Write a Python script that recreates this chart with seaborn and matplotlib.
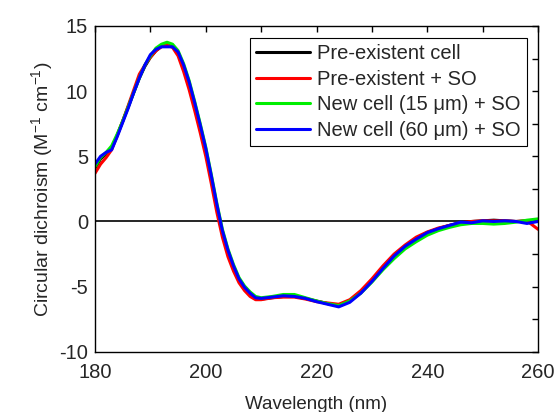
import pandas as pd
import seaborn as sns
import matplotlib.pyplot as plt
from matplotlib.ticker import MultipleLocator

# wavelength (nm)
wavelength = list(range(180, 211)) + list(range(212, 261, 2))

# CD values (M^-1 cm^-1)
pre_cell = [4.1, 4.8, 5.2, 5.6, 6.6, 7.7, 8.8, 9.9, 11.0, 11.9,
            12.6, 13.1, 13.45, 13.6, 13.45, 12.9, 11.8, 10.5, 8.9, 7.2,
            5.4, 3.3, 1.1, -0.9, -2.4, -3.6, -4.5, -5.15, -5.6, -5.9,
            -5.95, -5.85, -5.75, -5.75, -5.9, -6.1, -6.3, -6.45, -6.1, -5.4,
            -4.5, -3.5, -2.6, -1.9, -1.3, -0.85, -0.55, -0.3, -0.1, 0.0,
            0.05, 0.1, 0.05, 0.0, 0.05, 0.05]
pre_so = [3.7, 4.4, 4.9, 5.5, 6.6, 7.7, 8.9, 10.1, 11.3, 12.0,
          12.6, 13.1, 13.4, 13.55, 13.35, 12.7, 11.5, 10.1, 8.5, 6.8,
          5.0, 2.9, 0.7, -1.2, -2.7, -3.8, -4.7, -5.3, -5.75, -6.0,
          -6.0, -5.85, -5.8, -5.8, -5.95, -6.15, -6.25, -6.35, -6.0, -5.3,
          -4.4, -3.4, -2.5, -1.8, -1.2, -0.8, -0.5, -0.3, -0.1, 0.0,
          0.05, 0.05, 0.05, 0.0, 0.05, -0.6]
new15_so = [4.2, 4.9, 5.3, 5.8, 6.7, 7.7, 8.8, 9.9, 11.0, 12.0,
            12.7, 13.3, 13.6, 13.75, 13.6, 13.1, 12.1, 10.8, 9.2, 7.5,
            5.7, 3.6, 1.4, -0.6, -2.1, -3.3, -4.3, -4.95, -5.4, -5.75,
            -5.85, -5.75, -5.6, -5.6, -5.85, -6.1, -6.3, -6.45, -6.1, -5.5,
            -4.65, -3.7, -2.85, -2.1, -1.55, -1.05, -0.7, -0.45, -0.25, -0.15,
            -0.15, -0.2, -0.15, -0.05, 0.1, 0.2]
new60_so = [4.4, 5.0, 5.3, 5.5, 6.5, 7.6, 8.7, 9.9, 11.0, 12.0,
            12.8, 13.2, 13.4, 13.4, 13.4, 13.0, 12.0, 10.7, 9.1, 7.4,
            5.6, 3.5, 1.3, -0.7, -2.2, -3.4, -4.4, -5.05, -5.5, -5.85,
            -5.9, -5.8, -5.7, -5.75, -5.9, -6.15, -6.35, -6.55, -6.2, -5.5,
            -4.6, -3.6, -2.65, -1.9, -1.35, -0.85, -0.55, -0.3, -0.05, -0.1,
            0.05, 0.0, 0.05, 0.0, -0.15, 0.0]

labels = ['Pre-existent cell', 'Pre-existent + SO',
          'New cell (15 μm) + SO', 'New cell (60 μm) + SO']
colors = ['black', '#ff0000', '#00ee00', '#0000ff']

frames = []
for lab, vals in zip(labels, [pre_cell, pre_so, new15_so, new60_so]):
    frames.append(pd.DataFrame({'wl': wavelength, 'cd': vals, 'sample': lab}))
df = pd.concat(frames, ignore_index=True)

sns.set_style('white')
plt.rcParams['font.family'] = ['Liberation Sans', 'DejaVu Sans']
plt.rcParams['mathtext.default'] = 'regular'
plt.rcParams['axes.unicode_minus'] = False

fig = plt.figure(figsize=(5.57, 4.12), dpi=100)
ax = fig.add_axes([0.1706, 0.146, 0.7954, 0.791])

ax.axhline(0, color='black', lw=1.2, zorder=1)
sns.lineplot(data=df, x='wl', y='cd', hue='sample', hue_order=labels,
             palette=colors, linewidth=2.2, ax=ax, sort=False)

ax.set_xlim(180, 260)
ax.set_ylim(-10, 15)
ax.xaxis.set_major_locator(MultipleLocator(20))
ax.xaxis.set_minor_locator(MultipleLocator(10))
ax.yaxis.set_major_locator(MultipleLocator(5))
ax.yaxis.set_minor_locator(MultipleLocator(2.5))
ax.tick_params(which='both', direction='in', top=True, right=True,
               length=4.5, width=1, color='black', labelsize=14.5)
ax.tick_params(axis='x', pad=8)
ax.tick_params(axis='y', pad=5)
for s in ax.spines.values():
    s.set_color('black')
    s.set_linewidth(1)

ax.set_xlabel('Wavelength (nm)', fontsize=13.5, labelpad=10)
ax.set_ylabel('Circular dichroism (M$^{-1}$ cm$^{-1}$)', fontsize=14, labelpad=3)

leg = ax.legend(loc='upper right', bbox_to_anchor=(0.975, 0.962),
                borderaxespad=0, fontsize=14.5, handlelength=2.7,
                labelspacing=0.32, handletextpad=0.35, borderpad=0.3,
                fancybox=False, framealpha=1, edgecolor='black')
leg.get_frame().set_linewidth(0.8)

fig.savefig('out.png', dpi=100)
